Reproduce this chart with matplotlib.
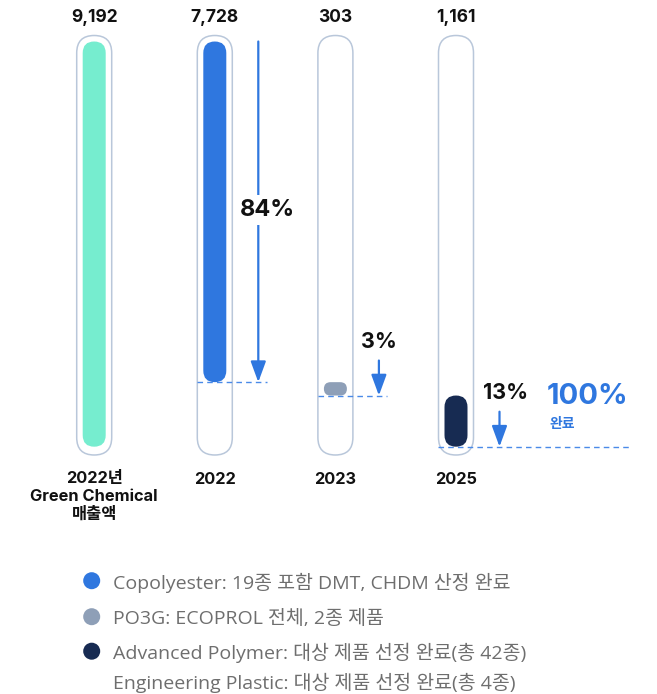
import matplotlib
matplotlib.use("Agg")
import matplotlib.pyplot as plt
from matplotlib.patches import FancyBboxPatch
import numpy as np

plt.rcParams['font.family'] = ['Inter', 'Noto Sans CJK KR', 'DejaVu Sans']

# ---------------- data ----------------
categories = ['2022년\nGreen Chemical\n매출액', '2022', '2023', '2025']
values = [9192, 7728, 303, 1161]
value_labels = ['9,192', '7,728', '303', '1,161']
bar_colors = ['#76EDCF', '#2F77DF', '#8E9FB7', '#172B52']
legend_labels = ['Copolyester: 19종 포함 DMT, CHDM 산정 완료',
                 'PO3G: ECOPROL 전체, 2종 제품',
                 'Advanced Polymer: 대상 제품 선정 완료(총 42종)',
                 'Engineering Plastic: 대상 제품 선정 완료(총 4종)']
legend_colors = ['#2F77DF', '#8E9FB7', '#172B52', None]
total_label = '100%'
total_sub = '완료'

# ---------------- layout ----------------
W, H = 657, 694
fig = plt.figure(figsize=(W / 100, H / 100), dpi=100)
ax = fig.add_axes([0, 0, 1, 1])
ax.axis('off')

BASE_PY, TOP_PY = 446.7, 41.5
total = values[0]
upp = total / (BASE_PY - TOP_PY)          # value units per pixel


def v(py):
    return (BASE_PY - py) * upp


ax.set_xlim(0, W)
ax.set_ylim(v(H), v(0))

centers = [94.2 + 120.6 * i for i in range(len(values))]
FILL_W, OUT_W = 23, 35
blue = '#2F77DF'
dash_blue = '#4A8AE8'
num_font = ['Inter', 'Noto Sans CJK KR']
kr_font = ['Noto Sans CJK KR']
leg_font = ['Open Sans', 'Noto Sans CJK KR']

# waterfall extents
tops, bottoms = [], []
remaining = total
for i, val in enumerate(values):
    if i == 0:
        tops.append(val); bottoms.append(0)
    else:
        tops.append(remaining); bottoms.append(remaining - val)
        remaining -= val


def pill(xc, y0, y1, w, **kw):
    hpx = (y1 - y0) / upp
    r = min(w / 2, hpx / 2)
    p = FancyBboxPatch((xc - w / 2, y0), w, y1 - y0,
                       boxstyle=f"round,pad=0,rounding_size={r}",
                       mutation_aspect=upp, **kw)
    ax.add_patch(p)


for i, (xc, val) in enumerate(zip(centers, values)):
    pill(xc, v(455), v(35.5), OUT_W, facecolor='white', edgecolor='#B9C7DA', lw=1.1, zorder=1)
    pill(xc, bottoms[i], tops[i], FILL_W, facecolor=bar_colors[i], edgecolor='none', zorder=2)
    ax.text(xc, v(17.5), value_labels[i], ha='center', va='center', fontsize=12.5,
            fontweight='bold', color='#111111', family=num_font)
    ax.text(xc, v(471.5), categories[i], ha='center', va='top', fontsize=11.8,
            fontweight='bold', color='#111111', linespacing=1.2, family=num_font)

# arrows, dashed lines and percent labels
dash_right = [None, 266.7, 386.7, 630]
arrow_off = 43.5
for i in range(1, len(values)):
    xc = centers[i]
    xa = xc + arrow_off
    pct = f"{round(values[i] / total * 100)}%"
    ax.plot([xc - OUT_W / 2, dash_right[i]], [bottoms[i], bottoms[i]], color=dash_blue,
            lw=1.0, ls=(0, (4, 3)), zorder=3)
    start = tops[i] if i == 1 else bottoms[i] + 35 * upp
    ax.annotate('', xy=(xa, bottoms[i]), xytext=(xa, start),
                arrowprops=dict(arrowstyle='-|>,head_length=0.6,head_width=0.22',
                                color=blue, lw=1.6, shrinkA=0, shrinkB=0,
                                mutation_scale=21), zorder=4)
    if i == 1:
        ax.text(xa + 9, v(210), pct, ha='center', va='center', fontsize=17, fontweight='bold',
                color='#111111', zorder=5, family=num_font,
                bbox=dict(boxstyle='square,pad=0.15', facecolor='white', edgecolor='none'))
    elif i == 2:
        ax.text(xa + 0.5, v(342), pct, ha='center', va='center', fontsize=15.5,
                fontweight='bold', color='#111111', zorder=5, family=num_font)
    else:
        ax.text(xa + 6.5, v(393), pct, ha='center', va='center', fontsize=15.5,
                fontweight='bold', color='#111111', zorder=5, family=num_font)

ax.text(588, v(396), total_label, ha='center', va='center', fontsize=21, fontweight='bold',
        color=blue, family=num_font)
ax.text(562, v(424), total_sub, ha='center', va='center', fontsize=10, fontweight='bold',
        color=blue, family=kr_font)

# legend
leg_y = [580.7, 616.7, 651.2, 681]
for lab, col, py in zip(legend_labels, legend_colors, leg_y):
    if col is not None:
        ax.scatter([91.7], [v(py)], s=150, color=col, edgecolors='none')
    ax.text(113, v(py), lab, ha='left', va='center_baseline', fontsize=14, color='#6E6E6E',
            family=leg_font, fontweight='medium')

fig.savefig('out.png', dpi=100)
